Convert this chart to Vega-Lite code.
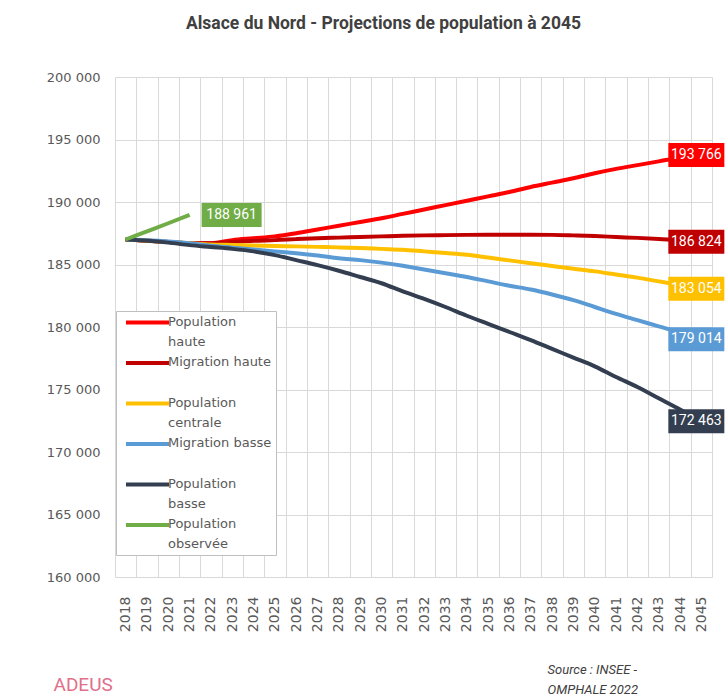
{
 "$schema": "https://vega.github.io/schema/vega-lite/v6.json",
 "width": 597, "height": 500,
 "autosize": {"type": "none"},
 "padding": {"left": 115, "top": 77, "right": 14, "bottom": 121},
 "background": "white",
 "config": {
   "locale": {"number": {"decimal": ",", "thousands": "\u00a0", "grouping": [3], "currency": ["", "\u00a0€"]}},
   "view": {"stroke": null},
   "style": {"guide-label": {"lineHeight": 20}}
 },
 "title": {"text": "Alsace du Nord - Projections de population à 2045", "font": "Roboto", "fontSize": 17.5, "fontWeight": "bold", "color": "#404040", "anchor": "middle", "dx": -30, "offset": 25, "baseline": "alphabetic"},
 "data": {"values": [
  {"serie":"Population haute","annee":2018,"valeur":187000},{"serie":"Population haute","annee":2019,"valeur":186900},{"serie":"Population haute","annee":2020,"valeur":186800},{"serie":"Population haute","annee":2021,"valeur":186700},{"serie":"Population haute","annee":2022,"valeur":186700},{"serie":"Population haute","annee":2023,"valeur":186950},{"serie":"Population haute","annee":2024,"valeur":187100},{"serie":"Population haute","annee":2025,"valeur":187250},{"serie":"Population haute","annee":2026,"valeur":187500},{"serie":"Population haute","annee":2027,"valeur":187800},{"serie":"Population haute","annee":2028,"valeur":188100},{"serie":"Population haute","annee":2029,"valeur":188400},{"serie":"Population haute","annee":2030,"valeur":188700},{"serie":"Population haute","annee":2031,"valeur":189050},{"serie":"Population haute","annee":2032,"valeur":189400},{"serie":"Population haute","annee":2033,"valeur":189750},{"serie":"Population haute","annee":2034,"valeur":190100},{"serie":"Population haute","annee":2035,"valeur":190450},{"serie":"Population haute","annee":2036,"valeur":190800},{"serie":"Population haute","annee":2037,"valeur":191200},{"serie":"Population haute","annee":2038,"valeur":191550},{"serie":"Population haute","annee":2039,"valeur":191900},{"serie":"Population haute","annee":2040,"valeur":192300},{"serie":"Population haute","annee":2041,"valeur":192650},{"serie":"Population haute","annee":2042,"valeur":192950},{"serie":"Population haute","annee":2043,"valeur":193250},{"serie":"Population haute","annee":2044,"valeur":193550},{"serie":"Population haute","annee":2045,"valeur":193766},
  {"serie":"Migration haute","annee":2018,"valeur":187000},{"serie":"Migration haute","annee":2019,"valeur":186900},{"serie":"Migration haute","annee":2020,"valeur":186800},{"serie":"Migration haute","annee":2021,"valeur":186700},{"serie":"Migration haute","annee":2022,"valeur":186700},{"serie":"Migration haute","annee":2023,"valeur":186800},{"serie":"Migration haute","annee":2024,"valeur":186900},{"serie":"Migration haute","annee":2025,"valeur":186950},{"serie":"Migration haute","annee":2026,"valeur":187030},{"serie":"Migration haute","annee":2027,"valeur":187100},{"serie":"Migration haute","annee":2028,"valeur":187150},{"serie":"Migration haute","annee":2029,"valeur":187200},{"serie":"Migration haute","annee":2030,"valeur":187250},{"serie":"Migration haute","annee":2031,"valeur":187300},{"serie":"Migration haute","annee":2032,"valeur":187330},{"serie":"Migration haute","annee":2033,"valeur":187350},{"serie":"Migration haute","annee":2034,"valeur":187370},{"serie":"Migration haute","annee":2035,"valeur":187380},{"serie":"Migration haute","annee":2036,"valeur":187380},{"serie":"Migration haute","annee":2037,"valeur":187380},{"serie":"Migration haute","annee":2038,"valeur":187370},{"serie":"Migration haute","annee":2039,"valeur":187330},{"serie":"Migration haute","annee":2040,"valeur":187280},{"serie":"Migration haute","annee":2041,"valeur":187200},{"serie":"Migration haute","annee":2042,"valeur":187130},{"serie":"Migration haute","annee":2043,"valeur":187040},{"serie":"Migration haute","annee":2044,"valeur":186940},{"serie":"Migration haute","annee":2045,"valeur":186824},
  {"serie":"Population centrale","annee":2018,"valeur":187000},{"serie":"Population centrale","annee":2019,"valeur":186900},{"serie":"Population centrale","annee":2020,"valeur":186800},{"serie":"Population centrale","annee":2021,"valeur":186700},{"serie":"Population centrale","annee":2022,"valeur":186600},{"serie":"Population centrale","annee":2023,"valeur":186560},{"serie":"Population centrale","annee":2024,"valeur":186520},{"serie":"Population centrale","annee":2025,"valeur":186480},{"serie":"Population centrale","annee":2026,"valeur":186450},{"serie":"Population centrale","annee":2027,"valeur":186410},{"serie":"Population centrale","annee":2028,"valeur":186370},{"serie":"Population centrale","annee":2029,"valeur":186320},{"serie":"Population centrale","annee":2030,"valeur":186250},{"serie":"Population centrale","annee":2031,"valeur":186180},{"serie":"Population centrale","annee":2032,"valeur":186050},{"serie":"Population centrale","annee":2033,"valeur":185920},{"serie":"Population centrale","annee":2034,"valeur":185780},{"serie":"Population centrale","annee":2035,"valeur":185560},{"serie":"Population centrale","annee":2036,"valeur":185330},{"serie":"Population centrale","annee":2037,"valeur":185100},{"serie":"Population centrale","annee":2038,"valeur":184880},{"serie":"Population centrale","annee":2039,"valeur":184660},{"serie":"Population centrale","annee":2040,"valeur":184450},{"serie":"Population centrale","annee":2041,"valeur":184200},{"serie":"Population centrale","annee":2042,"valeur":183950},{"serie":"Population centrale","annee":2043,"valeur":183650},{"serie":"Population centrale","annee":2044,"valeur":183350},{"serie":"Population centrale","annee":2045,"valeur":183054},
  {"serie":"Migration basse","annee":2018,"valeur":187000},{"serie":"Migration basse","annee":2019,"valeur":186950},{"serie":"Migration basse","annee":2020,"valeur":186850},{"serie":"Migration basse","annee":2021,"valeur":186700},{"serie":"Migration basse","annee":2022,"valeur":186500},{"serie":"Migration basse","annee":2023,"valeur":186350},{"serie":"Migration basse","annee":2024,"valeur":186200},{"serie":"Migration basse","annee":2025,"valeur":186050},{"serie":"Migration basse","annee":2026,"valeur":185900},{"serie":"Migration basse","annee":2027,"valeur":185720},{"serie":"Migration basse","annee":2028,"valeur":185500},{"serie":"Migration basse","annee":2029,"valeur":185350},{"serie":"Migration basse","annee":2030,"valeur":185150},{"serie":"Migration basse","annee":2031,"valeur":184900},{"serie":"Migration basse","annee":2032,"valeur":184600},{"serie":"Migration basse","annee":2033,"valeur":184300},{"serie":"Migration basse","annee":2034,"valeur":184000},{"serie":"Migration basse","annee":2035,"valeur":183650},{"serie":"Migration basse","annee":2036,"valeur":183300},{"serie":"Migration basse","annee":2037,"valeur":183000},{"serie":"Migration basse","annee":2038,"valeur":182600},{"serie":"Migration basse","annee":2039,"valeur":182150},{"serie":"Migration basse","annee":2040,"valeur":181600},{"serie":"Migration basse","annee":2041,"valeur":181050},{"serie":"Migration basse","annee":2042,"valeur":180550},{"serie":"Migration basse","annee":2043,"valeur":180050},{"serie":"Migration basse","annee":2044,"valeur":179550},{"serie":"Migration basse","annee":2045,"valeur":179014},
  {"serie":"Population basse","annee":2018,"valeur":187000},{"serie":"Population basse","annee":2019,"valeur":186900},{"serie":"Population basse","annee":2020,"valeur":186750},{"serie":"Population basse","annee":2021,"valeur":186550},{"serie":"Population basse","annee":2022,"valeur":186400},{"serie":"Population basse","annee":2023,"valeur":186250},{"serie":"Population basse","annee":2024,"valeur":186050},{"serie":"Population basse","annee":2025,"valeur":185750},{"serie":"Population basse","annee":2026,"valeur":185350},{"serie":"Population basse","annee":2027,"valeur":184950},{"serie":"Population basse","annee":2028,"valeur":184500},{"serie":"Population basse","annee":2029,"valeur":184000},{"serie":"Population basse","annee":2030,"valeur":183500},{"serie":"Population basse","annee":2031,"valeur":182850},{"serie":"Population basse","annee":2032,"valeur":182250},{"serie":"Population basse","annee":2033,"valeur":181600},{"serie":"Population basse","annee":2034,"valeur":180900},{"serie":"Population basse","annee":2035,"valeur":180250},{"serie":"Population basse","annee":2036,"valeur":179600},{"serie":"Population basse","annee":2037,"valeur":178950},{"serie":"Population basse","annee":2038,"valeur":178250},{"serie":"Population basse","annee":2039,"valeur":177550},{"serie":"Population basse","annee":2040,"valeur":176850},{"serie":"Population basse","annee":2041,"valeur":176000},{"serie":"Population basse","annee":2042,"valeur":175200},{"serie":"Population basse","annee":2043,"valeur":174300},{"serie":"Population basse","annee":2044,"valeur":173400},{"serie":"Population basse","annee":2045,"valeur":172463},
  {"serie":"Population observée","annee":2018,"valeur":187000},{"serie":"Population observée","annee":2019,"valeur":187650},{"serie":"Population observée","annee":2020,"valeur":188300},{"serie":"Population observée","annee":2021,"valeur":188961}
 ]},
 "layer": [
  {"mark": {"type": "line", "strokeWidth": 4, "interpolate": "monotone"},
   "encoding": {
    "x": {"field": "annee", "type": "ordinal", "scale": {"type": "band", "paddingInner": 0, "paddingOuter": 0},
      "axis": {"title": ["Source : INSEE -", "OMPHALE 2022"], "titleFont": "Roboto", "titleFontStyle": "italic", "titleFontWeight": "normal", "titleFontSize": 13, "titleColor": "#404040", "titleAlign": "left", "titleAnchor": "start", "titleX": 432, "titleY": 96, "titleBaseline": "alphabetic", "titleLineHeight": 20,
        "labelAngle": -90, "labelFont": "DejaVu Sans", "labelFontSize": 14, "labelColor": "#595959", "labelPadding": 19, "ticks": false, "domain": false, "grid": true, "gridColor": "#d9d9d9", "tickBand": "extent"}},
    "y": {"field": "valeur", "type": "quantitative", "scale": {"domain": [160000, 200000], "nice": false, "zero": false},
      "axis": {"values": [160000,165000,170000,175000,180000,185000,190000,195000,200000], "format": ",.0f", "title": "ADEUS", "titleAngle": 0, "titleFont": "Roboto", "titleFontSize": 19, "titleFontWeight": "normal", "titleColor": "#e0708a", "titleAlign": "left", "titleX": -62, "titleY": 613, "titleBaseline": "alphabetic",
        "labelFont": "DejaVu Sans", "labelFontSize": 13, "labelColor": "#595959", "labelPadding": 15, "ticks": false, "domain": false, "gridColor": "#d9d9d9"}},
    "color": {"field": "serie", "type": "nominal",
      "scale": {"domain": ["Population haute", "Migration haute", "Population centrale", "Migration basse", "Population basse", "Population observée"], "range": ["#ff0000", "#c00000", "#ffc000", "#5b9bd5", "#333f50", "#70ad47"]},
      "legend": {"title": null, "orient": "none", "legendX": 1, "legendY": 234, "direction": "vertical", "symbolType": "M-4,0L4,0", "symbolStrokeWidth": 4, "symbolSize": 116, "symbolOffset": 20, "labelFont": "DejaVu Sans", "labelFontSize": 13, "labelColor": "#595959", "labelOffset": 13, "labelLimit": 200, "fillColor": "white", "strokeColor": "#bfbfbf", "padding": 4, "rowPadding": 5.5, "gridAlign": "all", "labelBaseline": "top",
        "labelExpr": "indexof(['Migration haute','Migration basse'], datum.label) >= 0 ? datum.label : split(datum.label, ' ')",
        "encode": {"labels": {"update": {"dy": {"value": -7}}}}}},
    "order": {"field": "annee", "type": "quantitative"}
   }},
  {"transform": [{"filter": "datum.annee == 2045"}],
   "mark": {"type": "point", "shape": "M-1,-0.43L1,-0.43L1,0.43L-1,0.43Z", "filled": true, "opacity": 1, "size": 3136, "xOffset": -5, "strokeWidth": 0},
   "encoding": {
    "x": {"field": "annee", "type": "ordinal"},
    "y": {"field": "valeur", "type": "quantitative"},
    "fill": {"field": "serie", "type": "nominal", "legend": null,
      "scale": {"domain": ["Population haute", "Migration haute", "Population centrale", "Migration basse", "Population basse", "Population observée"], "range": ["#ff0000", "#c00000", "#ffc000", "#5b9bd5", "#333f50", "#70ad47"]}}
   }},
  {"transform": [{"filter": "datum.annee == 2045"}],
   "mark": {"type": "text", "color": "white", "font": "Roboto", "fontSize": 14, "dx": -5, "baseline": "middle"},
   "encoding": {
    "x": {"field": "annee", "type": "ordinal"},
    "y": {"field": "valeur", "type": "quantitative"},
    "text": {"field": "valeur", "type": "quantitative", "format": ",.0f"}
   }},
  {"transform": [{"filter": "datum.serie == 'Population observée' && datum.annee == 2021"}],
   "mark": {"type": "point", "shape": "M-1,-0.4L1,-0.4L1,0.4L-1,0.4Z", "filled": true, "opacity": 1, "size": 3600, "xOffset": 42, "strokeWidth": 0},
   "encoding": {
    "x": {"field": "annee", "type": "ordinal"},
    "y": {"field": "valeur", "type": "quantitative"},
    "fill": {"field": "serie", "type": "nominal", "legend": null}
   }},
  {"transform": [{"filter": "datum.serie == 'Population observée' && datum.annee == 2021"}],
   "mark": {"type": "text", "color": "white", "font": "Roboto", "fontSize": 14, "dx": 42, "baseline": "middle"},
   "encoding": {
    "x": {"field": "annee", "type": "ordinal"},
    "y": {"field": "valeur", "type": "quantitative"},
    "text": {"field": "valeur", "type": "quantitative", "format": ",.0f"}
   }}
 ]
}
